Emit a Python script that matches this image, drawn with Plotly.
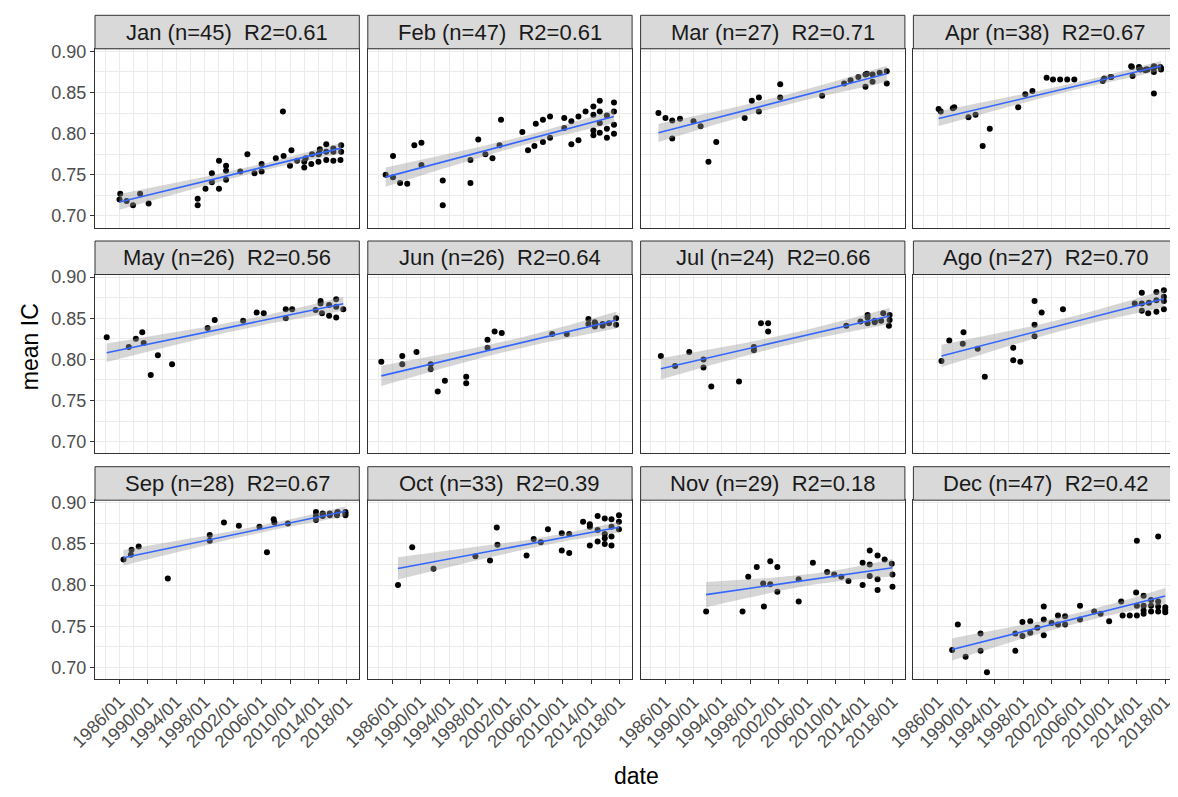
import numpy as np
import plotly.graph_objects as go

# ---------------- data (decimal year, mean IC) ----------------
jan_x = [1986.0, 1986.1, 1987.0, 1987.9, 1988.9, 1990.1, 1997.0, 1997.0, 1998.1, 1999.0, 1999.0,
         2000.0, 2000.0, 2001.0, 2001.0, 2001.0, 2003.0, 2004.0, 2005.0, 2006.0, 2006.0,
         2008.0, 2009.0, 2009.1, 2010.0, 2010.2, 2011.0, 2012.0, 2012.2, 2013.0, 2013.1,
         2014.0, 2014.2, 2014.1, 2015.1, 2015.1, 2015.1, 2016.1, 2016.1, 2017.1, 2017.2,
         2017.2, 2016.1, 2014.0, 2012.0]
jan_y = [0.720, 0.727, 0.718, 0.713, 0.727, 0.715, 0.721, 0.713, 0.733, 0.752, 0.741,
         0.767, 0.733, 0.761, 0.755, 0.744, 0.754, 0.775, 0.752, 0.763, 0.754,
         0.770, 0.827, 0.773, 0.761, 0.780, 0.767, 0.759, 0.770, 0.763, 0.775,
         0.766, 0.781, 0.776, 0.768, 0.787, 0.778, 0.767, 0.782, 0.768, 0.786,
         0.778, 0.778, 0.775, 0.766]

feb_x = [1985.06, 1986.1, 1986.1, 1987.1, 1988.1, 1989.1, 1990.1, 1990.1, 1993.1, 1993.1,
         1997.0, 1997.0, 1998.1, 1999.1, 2000.1, 2001.1, 2001.3, 2004.3, 2005.1, 2006.0,
         2006.2, 2007.2, 2007.2, 2008.2, 2008.2, 2010.2, 2010.2, 2011.2, 2011.2, 2012.2,
         2012.2, 2013.2, 2014.3, 2014.3, 2014.3, 2014.3, 2015.2, 2015.2, 2015.2, 2015.2,
         2016.2, 2016.2, 2016.2, 2017.2, 2017.2, 2017.2, 2017.2]
feb_y = [0.750, 0.773, 0.747, 0.740, 0.739, 0.786, 0.789, 0.762, 0.743, 0.713,
         0.768, 0.740, 0.793, 0.775, 0.770, 0.786, 0.817, 0.802, 0.780, 0.785,
         0.812, 0.817, 0.790, 0.821, 0.795, 0.819, 0.807, 0.815, 0.787, 0.821,
         0.792, 0.827, 0.833, 0.823, 0.804, 0.798, 0.840, 0.827, 0.813, 0.801,
         0.822, 0.806, 0.795, 0.838, 0.827, 0.811, 0.800]

mar_x = [1985.06, 1986.05, 1987.0, 1987.0, 1988.1, 1990.0, 1991.0, 1992.1, 1993.2, 1997.2,
         1998.2, 1999.2, 1999.2, 2002.2, 2002.2, 2008.1, 2011.2, 2012.1, 2013.2, 2014.2,
         2014.2, 2014.4, 2015.2, 2015.2, 2016.2, 2017.2, 2017.2]
mar_y = [0.825, 0.819, 0.816, 0.794, 0.818, 0.815, 0.809, 0.766, 0.790, 0.819,
         0.840, 0.844, 0.827, 0.860, 0.844, 0.846, 0.861, 0.865, 0.869, 0.872,
         0.857, 0.873, 0.872, 0.863, 0.874, 0.876, 0.861]

apr_x = [1986.1, 1986.4, 1988.1, 1988.3, 1990.3, 1991.3, 1992.3, 1993.3, 1997.3, 1998.3,
         1999.3, 2001.3, 2002.2, 2003.2, 2004.2, 2005.2, 2009.2, 2009.4, 2010.3, 2010.4,
         2013.2, 2013.4, 2014.3, 2014.5, 2015.2, 2015.5, 2016.4, 2016.4, 2016.4, 2017.4,
         2017.3, 2013.3, 2014.4, 2015.3, 2016.3, 2017.4, 2014.3, 2016.5]
apr_y = [0.830, 0.827, 0.831, 0.832, 0.820, 0.823, 0.785, 0.806, 0.832, 0.848,
         0.852, 0.868, 0.866, 0.866, 0.866, 0.866, 0.864, 0.867, 0.869, 0.869,
         0.882, 0.870, 0.880, 0.878, 0.877, 0.878, 0.882, 0.875, 0.849, 0.880,
         0.881, 0.881, 0.879, 0.878, 0.880, 0.878, 0.881, 0.881]

may_x = [1984.2, 1987.3, 1988.3, 1989.2, 1989.4, 1990.4, 1991.4, 1993.4, 1998.4, 1999.4,
         2003.4, 2005.3, 2006.3, 2009.4, 2009.4, 2010.3, 2013.6, 2014.3, 2014.3, 2014.5,
         2015.5, 2015.5, 2016.5, 2016.5, 2016.5, 2017.5]
may_y = [0.827, 0.815, 0.825, 0.833, 0.820, 0.781, 0.805, 0.794, 0.838, 0.848,
         0.847, 0.857, 0.856, 0.861, 0.850, 0.861, 0.860, 0.871, 0.868, 0.856,
         0.866, 0.853, 0.873, 0.864, 0.851, 0.861]

jun_x = [1984.45, 1987.4, 1987.4, 1989.4, 1991.4, 1991.4, 1992.4, 1993.4, 1996.4, 1996.4,
         1999.4, 1999.4, 2000.4, 2001.4, 2008.5, 2010.55, 2013.6, 2013.6, 2014.5, 2014.5,
         2015.6, 2016.5, 2017.5, 2017.5, 2014.6, 2015.6]
jun_y = [0.797, 0.804, 0.794, 0.809, 0.794, 0.788, 0.761, 0.774, 0.779, 0.771,
         0.824, 0.814, 0.834, 0.832, 0.831, 0.831, 0.849, 0.843, 0.845, 0.840,
         0.841, 0.844, 0.850, 0.842, 0.843, 0.843]

jul_x = [1985.4, 1987.4, 1989.4, 1991.4, 1991.4, 1992.5, 1996.4, 1998.5, 1998.5, 1999.5,
         2000.5, 2000.5, 2011.5, 2013.5, 2014.5, 2014.5, 2015.5, 2016.7, 2016.4, 2017.6,
         2017.6, 2017.5, 2014.5, 2015.5]
jul_y = [0.804, 0.792, 0.809, 0.800, 0.790, 0.767, 0.773, 0.815, 0.811, 0.844,
         0.844, 0.834, 0.841, 0.846, 0.854, 0.844, 0.845, 0.856, 0.847, 0.854,
         0.848, 0.841, 0.851, 0.847]

ago_x = [1986.5, 1987.6, 1989.6, 1989.5, 1991.6, 1992.6, 1996.6, 1996.6, 1997.6, 1999.6,
         1999.6, 1999.6, 2000.6, 2003.6, 2013.7, 2014.7, 2014.7, 2014.7, 2015.6, 2015.7,
         2016.75, 2016.75, 2016.75, 2017.8, 2017.8, 2017.8, 2017.8]
ago_y = [0.798, 0.823, 0.833, 0.819, 0.813, 0.779, 0.814, 0.799, 0.797, 0.871,
         0.842, 0.828, 0.857, 0.861, 0.868, 0.881, 0.868, 0.859, 0.856, 0.869,
         0.882, 0.872, 0.858, 0.884, 0.876, 0.871, 0.861]

sep_x = [1986.56, 1987.6, 1987.7, 1988.7, 1992.8, 1998.7, 1998.7, 2000.7, 2002.8, 2005.7,
         2006.75, 2007.7, 2007.8, 2009.7, 2013.65, 2013.65, 2013.65, 2014.6, 2014.6, 2015.6,
         2015.6, 2016.6, 2016.6, 2016.7, 2017.8, 2017.8, 2017.8, 2014.6]
sep_y = [0.831, 0.837, 0.843, 0.847, 0.808, 0.861, 0.854, 0.876, 0.872, 0.871,
         0.840, 0.880, 0.876, 0.875, 0.889, 0.884, 0.879, 0.887, 0.884, 0.885,
         0.887, 0.887, 0.885, 0.889, 0.889, 0.885, 0.887, 0.886]

oct_x = [1986.8, 1988.8, 1991.8, 1997.7, 1999.75, 2000.7, 2000.8, 2004.9, 2005.9, 2006.9,
         2007.9, 2009.85, 2009.85, 2010.9, 2010.9, 2012.85, 2013.8, 2013.8, 2013.8, 2014.9,
         2014.9, 2014.9, 2015.9, 2015.9, 2015.9, 2015.9, 2016.85, 2016.85, 2016.85, 2016.85,
         2017.9, 2017.9, 2017.9]
oct_y = [0.800, 0.846, 0.820, 0.835, 0.830, 0.870, 0.849, 0.836, 0.856, 0.852,
         0.868, 0.863, 0.842, 0.862, 0.839, 0.877, 0.874, 0.871, 0.848, 0.884,
         0.867, 0.853, 0.881, 0.862, 0.857, 0.850, 0.880, 0.871, 0.859, 0.848,
         0.885, 0.877, 0.868]

nov_x = [1991.77, 1996.9, 1997.7, 1998.9, 1999.8, 1999.9, 2000.8, 2000.8, 2001.8, 2001.8,
         2004.8, 2004.8, 2006.8, 2008.8, 2009.8, 2010.8, 2011.8, 2013.8, 2013.8, 2014.8,
         2014.8, 2014.8, 2015.9, 2015.9, 2015.9, 2016.9, 2017.9, 2018.0, 2018.0]
nov_y = [0.768, 0.768, 0.810, 0.822, 0.802, 0.774, 0.829, 0.801, 0.822, 0.792,
         0.807, 0.780, 0.827, 0.816, 0.813, 0.810, 0.805, 0.827, 0.800, 0.842,
         0.825, 0.811, 0.836, 0.807, 0.794, 0.831, 0.826, 0.813, 0.798]

dec_x = [1988.0, 1988.8, 1989.9, 1992.0, 1992.0, 1992.9, 1996.9, 1996.9, 1997.9, 1997.9,
         1999.0, 1999.0, 2000.0, 2000.9, 2000.9, 2000.9, 2002.0, 2002.9, 2002.9, 2003.9,
         2003.9, 2006.0, 2006.0, 2008.0, 2008.9, 2010.1, 2011.8, 2012.0, 2013.0, 2014.0,
         2013.9, 2014.0, 2014.0, 2014.95, 2014.95, 2014.95, 2014.95, 2016.0, 2016.0, 2016.0,
         2017.0, 2017.0, 2017.0, 2017.0, 2018.0, 2018.0, 2018.0]
dec_y = [0.721, 0.752, 0.713, 0.741, 0.720, 0.694, 0.720, 0.741, 0.755, 0.738,
         0.756, 0.742, 0.748, 0.774, 0.758, 0.739, 0.754, 0.763, 0.752, 0.762,
         0.752, 0.775, 0.758, 0.768, 0.765, 0.756, 0.780, 0.763, 0.763, 0.854,
         0.791, 0.775, 0.763, 0.787, 0.775, 0.769, 0.765, 0.782, 0.775, 0.768,
         0.859, 0.780, 0.774, 0.768, 0.773, 0.767, 0.770]

month_names = ["Jan", "Feb", "Mar", "Apr", "May", "Jun", "Jul", "Ago", "Sep", "Oct", "Nov", "Dec"]
n_counts = [45, 47, 27, 38, 26, 26, 24, 27, 28, 33, 29, 47]
r2_labels = ["0.61", "0.61", "0.71", "0.67", "0.56", "0.64", "0.66", "0.70", "0.67", "0.39", "0.18", "0.42"]

x_tick_years = [1986, 1990, 1994, 1998, 2002, 2006, 2010, 2014, 2018]
x_tick_text = ["1986/01", "1990/01", "1994/01", "1998/01", "2002/01", "2006/01", "2010/01", "2014/01", "2018/01"]
x_minor_years = [1984, 1988, 1992, 1996, 2000, 2004, 2008, 2012, 2016]
y_tick_vals = [0.70, 0.75, 0.80, 0.85, 0.90]
y_tick_text = ["0.70", "0.75", "0.80", "0.85", "0.90"]
y_minor_vals = [0.725, 0.775, 0.825, 0.875]

all_x = [jan_x, feb_x, mar_x, apr_x, may_x, jun_x, jul_x, ago_x, sep_x, oct_x, nov_x, dec_x]
all_y = [jan_y, feb_y, mar_y, apr_y, may_y, jun_y, jul_y, ago_y, sep_y, oct_y, nov_y, dec_y]

# ---------------- layout geometry (page pixels; page body has an 8px margin) ----------------
OFF = 8
W, H = 1178 - OFF, 797 - OFF
col_left = [95.0, 367.8, 640.6, 913.4]
pw = 264.3
row_top = [48.8, 274.5, 500.2]
ph = 178.8
strip_h = 33.5
X_RANGE = [1982.55, 2019.75]
Y_RANGE = [0.6858, 0.9032]

FONT = "Liberation Sans, Arial, sans-serif"
GRID = "#EBEBEB"
BORDER = "#333333"


def px(xp):
    return (xp - OFF) / W


def py(yp):
    return 1 - (yp - OFF) / H


def t975(df):
    z = 1.959964
    return z + (z ** 3 + z) / (4 * df) + (5 * z ** 5 + 16 * z ** 3 + 3 * z) / (96 * df ** 2)


def lm_band(x, y, npts=80):
    x = np.asarray(x, float)
    y = np.asarray(y, float)
    n = len(x)
    b, a = np.polyfit(x, y, 1)
    res = y - (a + b * x)
    s = np.sqrt(np.sum(res ** 2) / (n - 2))
    xm = x.mean()
    sxx = np.sum((x - xm) ** 2)
    xg = np.linspace(x.min(), x.max(), npts)
    fit = a + b * xg
    se = s * np.sqrt(1.0 / n + (xg - xm) ** 2 / sxx)
    t = t975(n - 2)
    return xg, fit, fit - t * se, fit + t * se


fig = go.Figure()
shapes = []
annotations = []
layout_axes = {}

for i in range(12):
    r, c = divmod(i, 4)
    k = i + 1
    xa = "x" if k == 1 else f"x{k}"
    ya = "y" if k == 1 else f"y{k}"
    xs, ys = all_x[i], all_y[i]

    fig.add_trace(go.Scatter(x=xs, y=ys, mode="markers", xaxis=xa, yaxis=ya,
                             marker=dict(color="black", size=6), showlegend=False, hoverinfo="x+y"))
    xg, fit, lo, hi = lm_band(xs, ys)
    fig.add_trace(go.Scatter(x=np.concatenate([xg, xg[::-1]]), y=np.concatenate([hi, lo[::-1]]),
                             fill="toself", fillcolor="rgba(153,153,153,0.4)", line=dict(width=0),
                             mode="lines", xaxis=xa, yaxis=ya, showlegend=False, hoverinfo="skip"))
    fig.add_trace(go.Scatter(x=xg, y=fit, mode="lines", line=dict(color="#3366FF", width=1.6),
                             xaxis=xa, yaxis=ya, showlegend=False, hoverinfo="skip"))

    left = col_left[c]
    top = row_top[r]
    xdom = [px(left), px(left + pw)]
    ydom = [py(top + ph), py(top)]
    bottom_row = (r == 2)
    left_col = (c == 0)

    xkey = "xaxis" if k == 1 else f"xaxis{k}"
    ykey = "yaxis" if k == 1 else f"yaxis{k}"
    layout_axes[xkey] = dict(
        domain=xdom, anchor=ya, range=X_RANGE, tickmode="array", tickvals=x_tick_years,
        ticktext=x_tick_text, showticklabels=bottom_row, ticks="outside" if bottom_row else "",
        ticklen=4, tickcolor=BORDER, tickwidth=1, tickangle=-45,
        tickfont=dict(family=FONT, size=18, color="#4D4D4D"),
        showgrid=True, gridcolor=GRID, gridwidth=1.1,
        minor=dict(tickvals=x_minor_years, showgrid=True, gridcolor=GRID, gridwidth=0.6, ticks=""),
        showline=True, mirror=True, linecolor=BORDER, linewidth=1, zeroline=False, fixedrange=True)
    layout_axes[ykey] = dict(
        domain=ydom, anchor=xa, range=Y_RANGE, tickmode="array", tickvals=y_tick_vals,
        ticktext=y_tick_text, showticklabels=left_col, ticks="outside" if left_col else "",
        ticklen=4, tickcolor=BORDER, tickwidth=1,
        tickfont=dict(family=FONT, size=18, color="#4D4D4D"),
        showgrid=True, gridcolor=GRID, gridwidth=1.1,
        minor=dict(tickvals=y_minor_vals, showgrid=True, gridcolor=GRID, gridwidth=0.6, ticks=""),
        showline=True, mirror=True, linecolor=BORDER, linewidth=1, zeroline=False, fixedrange=True)

    # facet strip
    shapes.append(dict(type="rect", xref="paper", yref="paper",
                       x0=px(left), x1=px(left + pw),
                       y0=py(top), y1=py(top - strip_h),
                       fillcolor="#D9D9D9", line=dict(color=BORDER, width=1), layer="above"))
    annotations.append(dict(xref="paper", yref="paper", x=px(left + pw / 2),
                            y=py(top - strip_h / 2), xanchor="center", yanchor="middle",
                            text=f"{month_names[i]} (n={n_counts[i]})\u00a0\u00a0R2={r2_labels[i]}",
                            showarrow=False, font=dict(family=FONT, size=22, color="#1A1A1A")))

annotations.append(dict(xref="paper", yref="paper", x=px((col_left[0] + col_left[3] + pw) / 2),
                        y=py(776), xanchor="center", yanchor="middle", text="date",
                        showarrow=False, font=dict(family=FONT, size=23, color="black")))
annotations.append(dict(xref="paper", yref="paper", x=px(30),
                        y=py(((row_top[0] - strip_h) + row_top[2] + ph) / 2),
                        xanchor="center", yanchor="middle", text="mean IC", textangle=-90,
                        showarrow=False, font=dict(family=FONT, size=23, color="black")))

fig.update_layout(width=W, height=H, margin=dict(l=0, r=0, t=0, b=0, autoexpand=False),
                  paper_bgcolor="white", plot_bgcolor="white", shapes=shapes,
                  annotations=annotations, showlegend=False, **layout_axes)

fig.write_html("out.html")
